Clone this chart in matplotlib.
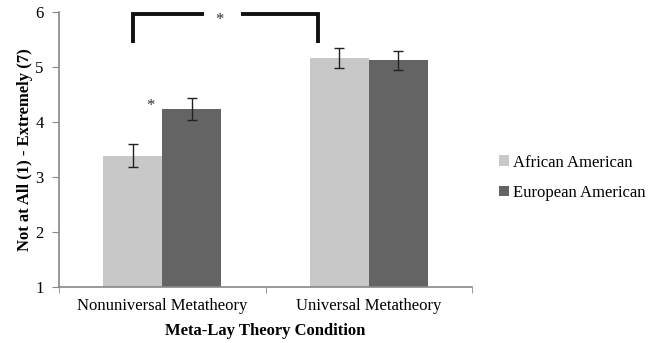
import matplotlib.pyplot as plt
import numpy as np

plt.rcParams['font.family'] = ['Liberation Serif', 'DejaVu Serif']

conditions = ['Nonuniversal Metatheory', 'Universal Metatheory']
groups = ['African American', 'European American']
means_african = [3.39, 5.17]
means_european = [4.23, 5.12]
err_african = [0.21, 0.18]
err_european = [0.20, 0.18]

light = '#c8c8c8'
dark = '#646464'

fig = plt.figure(figsize=(6.52, 3.43), dpi=100)
ax = fig.add_axes([0.0905, 0.163, 0.6335, 0.802])

x = np.arange(len(conditions))
w = 0.286
ax.bar(x - w / 2, means_african, w, color=light, label=groups[0], zorder=2)
ax.bar(x + w / 2, means_european, w, color=dark, label=groups[1], zorder=2)
ax.errorbar(x - w / 2, means_african, yerr=err_african, fmt='none',
            ecolor='#222222', elinewidth=1, capsize=3.5, capthick=1, zorder=3)
ax.errorbar(x + w / 2, means_european, yerr=err_european, fmt='none',
            ecolor='#222222', elinewidth=1, capsize=3.5, capthick=1, zorder=3)

# significance bracket with a gap for the star
bl, br = -0.143, 0.755
btop, bbot = 5.97, 5.43
ax.plot([bl, bl, 0.204], [bbot, btop, btop], color='#111111', lw=2.8,
        solid_capstyle='butt', solid_joinstyle='miter', clip_on=False, zorder=4)
ax.plot([0.379, br, br], [btop, btop, bbot], color='#111111', lw=2.8,
        solid_capstyle='butt', solid_joinstyle='miter', clip_on=False, zorder=4)
ax.text(0.277, 5.86, '*', ha='center', va='center', fontsize=12, color='#333333')
ax.text(-0.06, 4.30, '*', ha='center', va='center', fontsize=12, color='#333333')

ax.set_xlim(-0.5, 1.5)
ax.set_ylim(1, 6)
ax.set_yticks([1, 2, 3, 4, 5, 6])
ax.set_xticks(x)
ax.set_xticklabels(conditions, fontsize=12)
ax.set_xticks([-0.5, 0.5, 1.5], minor=True)
ax.tick_params(axis='x', which='major', length=0, pad=8)
ax.tick_params(axis='x', which='minor', length=4, color='#888888')
ax.tick_params(axis='y', length=5, color='#888888', labelsize=12, pad=6)

for s in ['top', 'right']:
    ax.spines[s].set_visible(False)
for s in ['left', 'bottom']:
    ax.spines[s].set_color('#888888')
    ax.spines[s].set_linewidth(1.2)

ax.set_ylabel('Not at All (1) - Extremely (7)', fontsize=12, fontweight='bold', labelpad=2)
ax.set_xlabel('Meta-Lay Theory Condition', fontsize=12, fontweight='bold', labelpad=6)

ax.legend(loc='center left', bbox_to_anchor=(1.03, 0.398), frameon=False, fontsize=12,
          handlelength=0.6, handleheight=0.6, handletextpad=0.2, labelspacing=0.85)

fig.savefig('out.png', dpi=100)
